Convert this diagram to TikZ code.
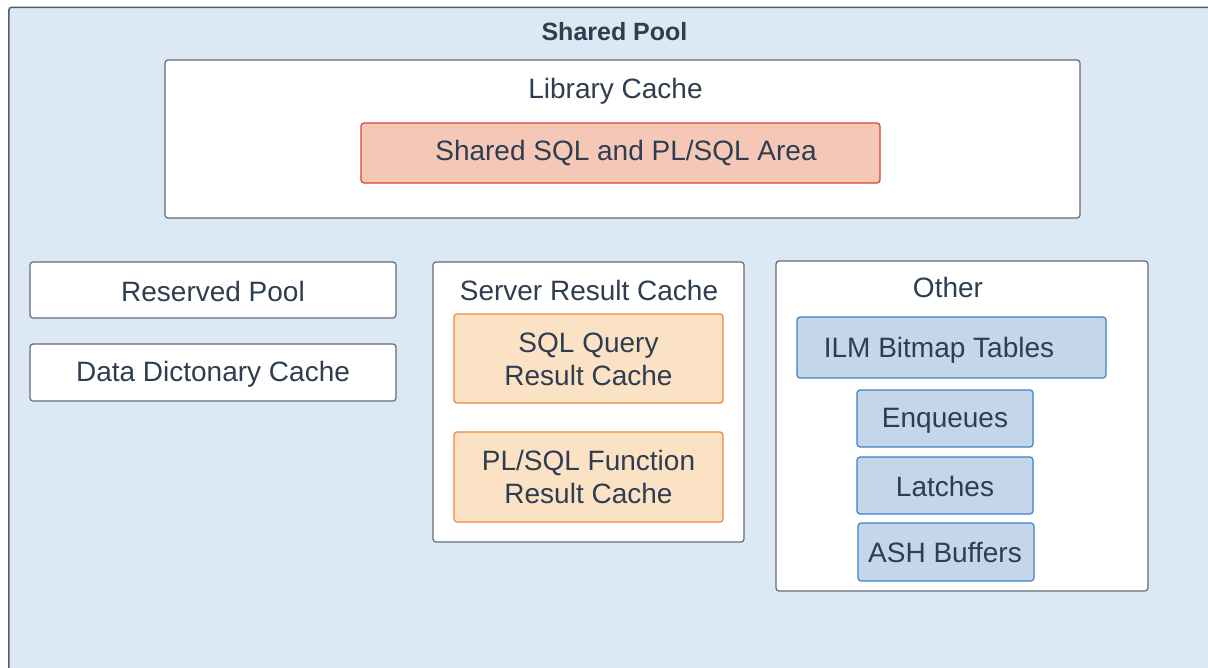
\documentclass[tikz,border=0pt]{standalone}
\usepackage{fontspec}
\setmainfont{Liberation Sans}
\definecolor{poolfill}{HTML}{DCE8F4}
\definecolor{poolline}{HTML}{4D5D70}
\definecolor{boxline}{HTML}{5F6B7A}
\definecolor{txt}{HTML}{2E3E50}
\definecolor{redfill}{HTML}{F5C7B6}
\definecolor{redline}{HTML}{E0402F}
\definecolor{orfill}{HTML}{FBE2C5}
\definecolor{orline}{HTML}{F0883A}
\definecolor{bluefill}{HTML}{C5D5EA}
\definecolor{blueline}{HTML}{3B82C4}
\begin{document}
\begin{tikzpicture}[x=1pt,y=-1pt,
  base/.style={rectangle, rounded corners=3pt, line width=1.2pt, inner sep=0pt, text=txt, font=\fontsize{28}{33}\selectfont, align=center},
  whitebox/.style={base, draw=boxline, fill=white},
  redbox/.style={base, draw=redline, fill=redfill},
  orbox/.style={base, draw=orline, fill=orfill},
  bluebox/.style={base, draw=blueline, fill=bluefill},
  lbl/.style={text=txt, font=\fontsize{28}{33}\selectfont, inner sep=0pt, align=center},
  title/.style={text=txt, font=\fontsize{25}{30}\selectfont\bfseries, inner sep=0pt}]
\useasboundingbox (0,0) rectangle (1208,667);
\clip (0,0) rectangle (1208,667);
% outer pool
\node[base, draw=poolline, line width=1.5pt, fill=poolfill, minimum width=1220pt, minimum height=680pt, anchor=north west] (pool) at (8,6.5) {};
\node[title] (pooltitle) at (614.5,32) {Shared Pool};
% library cache
\node[whitebox, minimum width=915pt, minimum height=158pt] (lib) at (622.5,139) {};
\node[lbl] (libt) at (615.5,91) {Library Cache};
\node[redbox, minimum width=519pt, minimum height=60pt] (sql) at (620.5,153) {};
\node[lbl] (sqlt) at (626,153) {Shared SQL and PL/SQL Area};
% left column
\node[whitebox, minimum width=366pt, minimum height=56pt] (res) at (213,290) {};
\node[lbl] (rest) at (213,291) {Reserved Pool};
\node[whitebox, minimum width=366pt, minimum height=57pt] (ddc) at (213,372.5) {};
\node[lbl] (ddct) at (213,374) {Data Dictonary Cache};
% server result cache
\node[whitebox, minimum width=311pt, minimum height=280pt] (src) at (588.5,402) {};
\node[lbl] (srct) at (589,290) {Server Result Cache};
\node[orbox, minimum width=269pt, minimum height=89pt] (sqlq) at (588.5,358.5) {};
\node[lbl] (sqlqt) at (588.5,359.5) {SQL Query\\Result Cache};
\node[orbox, minimum width=269pt, minimum height=90pt] (plsql) at (588.5,477) {};
\node[lbl] (plsqlt) at (588.5,477) {PL/SQL Function\\Result Cache};
% other
\node[whitebox, minimum width=372pt, minimum height=330pt] (oth) at (962,426) {};
\node[lbl] (otht) at (948,287) {Other};
\node[bluebox, minimum width=309pt, minimum height=61pt] (ilm) at (951.5,347.5) {};
\node[lbl] (ilmt) at (939,350) {ILM Bitmap Tables};
\node[bluebox, minimum width=176pt, minimum height=57pt] (enq) at (945,418.5) {};
\node[lbl] (enqt) at (945,421) {Enqueues};
\node[bluebox, minimum width=176pt, minimum height=57pt] (lat) at (945,485.5) {};
\node[lbl] (latt) at (945,486) {Latches};
\node[bluebox, minimum width=176pt, minimum height=58pt] (ash) at (946,552) {};
\node[lbl] (asht) at (945,552) {ASH Buffers};
\end{tikzpicture}
\end{document}
